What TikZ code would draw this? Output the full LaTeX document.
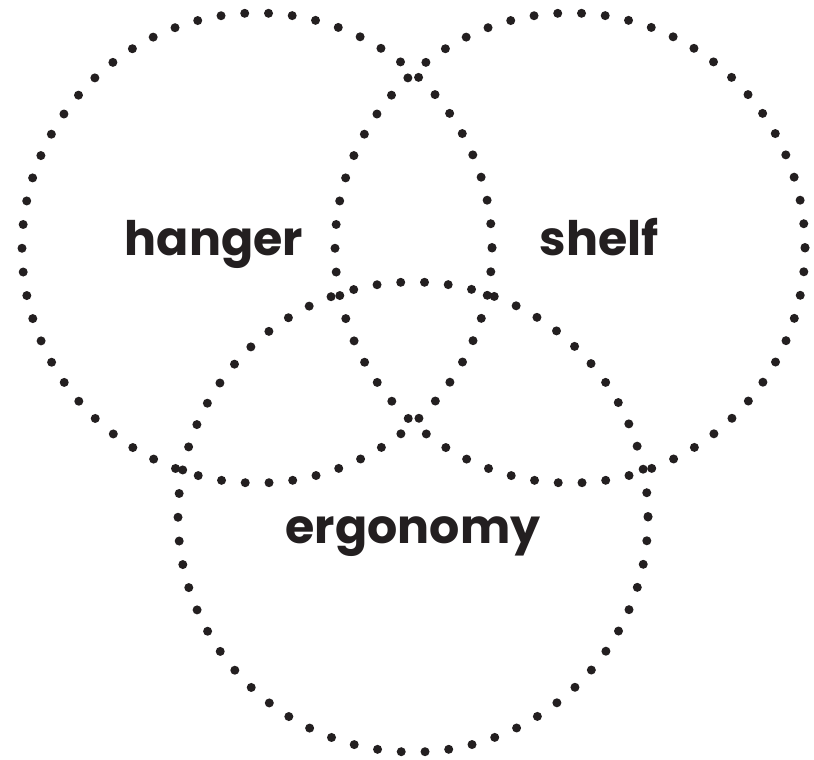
\documentclass[tikz,border=0pt]{standalone}
\usepackage{fontspec}
\setmainfont{Poppins}[BoldFont={* Bold}]
\definecolor{ink}{HTML}{231F20}
\begin{document}
\begin{tikzpicture}[x=1pt,y=-1pt,
  ring/.style={draw=ink,line width=9pt,line cap=round,dash pattern=on 0pt off 23.81pt},
  word/.style={anchor=base,text=ink,font=\fontsize{47.5}{57}\selectfont\bfseries,inner sep=0pt}]
\useasboundingbox (0,0) rectangle (814,760);
\draw[ring] (257,248) circle[radius=235];
\draw[ring] (570,248) circle[radius=235];
\draw[ring] (413,517) circle[radius=235];
\node[word] (hanger) at (214,255) {hanger};
\node[word] (shelf) at (599,255) {shelf};
\node[word] (ergonomy) at (413,543) {ergonomy};
\end{tikzpicture}
\end{document}
